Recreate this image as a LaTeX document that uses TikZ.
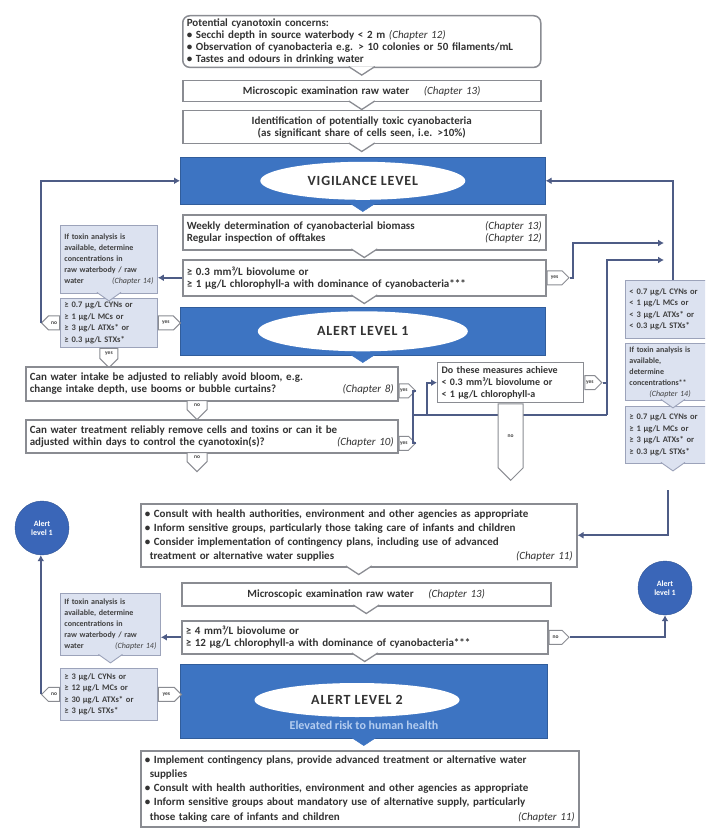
\documentclass[tikz,border=0pt]{standalone}
\usepackage{fontspec}
\setmainfont{Carlito}
\usetikzlibrary{shapes.geometric,shapes.symbols,calc,arrows.meta}
\definecolor{bannerblue}{HTML}{3D74C2}
\definecolor{circblue}{HTML}{3A66B8}
\definecolor{linec}{HTML}{4E5C86}
\definecolor{bordergrey}{HTML}{8A8C92}
\definecolor{toxfill}{HTML}{DCE2F0}
\definecolor{toxborder}{HTML}{9CA3BA}
\definecolor{subblue}{HTML}{B4CDF0}
\newcommand\chref[1]{{\mdseries\itshape #1}}
\newcommand\mybox[7]{%
 \pgfmathsetmacro\mbw{#5-#3}\pgfmathsetmacro\mbh{#6-#4}\pgfmathsetmacro\mbt{#5-#3-8}%
 \node[anchor=north west, minimum width=\mbw pt, minimum height=\mbh pt, text width=\mbt pt, #1] (#2) at (#3,#4) {#7};}
\newcommand\dnotch[3]{\filldraw[#1] ($(#2)+(-#3,-1.5)$) -- ($(#2)+(0,7)$) -- ($(#2)+(#3,-1.5)$);}
\begin{document}
\begin{tikzpicture}[x=1pt,y=-1pt,
 wbox/.style={draw=bordergrey, line width=1.5pt, fill=white, inner sep=3pt, font=\bfseries\fontsize{11}{12}\selectfont, text=black!80, align=left},
 tbox/.style={draw=toxborder, line width=0.9pt, fill=toxfill, inner sep=3pt, font=\bfseries\fontsize{8}{11}\selectfont, text=black!75, align=left},
 cbox/.style={tbox, font=\bfseries\fontsize{8.5}{11.5}\selectfont},
 banner/.style={fill=bannerblue, draw=bannerblue!80!black, line width=0.6pt},
 lev/.style={ellipse, fill=white, inner sep=0pt, font=\bfseries\fontsize{14}{15}\selectfont\addfontfeature{LetterSpace=6}, text=black!80},
 tab/.style={signal, draw=bordergrey, fill=white, line width=1pt, inner sep=1pt, font=\bfseries\fontsize{5.5}{6}\selectfont, text=black!75, minimum height=14pt, minimum width=20pt},
 conn/.style={draw=linec, line width=1.8pt},
 arr/.style={conn, -{Latex[length=6pt,width=7pt]}},
 circ/.style={circle, fill=circblue, draw=circblue!80!black, text=white, font=\bfseries\fontsize{8}{9}\selectfont, align=center, minimum size=54pt, inner sep=0pt},
 wn/.style={fill=white, draw=bordergrey, line width=1.3pt},
 tn/.style={fill=toxfill, draw=toxborder, line width=0.9pt},
 bn/.style={fill=bannerblue, draw=bannerblue}]
\clip (0,0) rectangle (705,829);
\fill[white] (0,0) rectangle (705,829);

% ---------- main column top ----------
\mybox{wbox, rounded corners=7pt}{top}{182}{15}{540}{65}{Potential cyanotoxin concerns:\\
\textbullet\ Secchi depth in source waterbody < 2 m \chref{(Chapter 12)}\\
\textbullet\ Observation of cyanobacteria e.g. > 10 colonies or 50 filaments/mL\\
\textbullet\ Tastes and odours in drinking water}
\mybox{wbox, align=center}{micro1}{182}{80}{540}{101}{Microscopic examination raw water \quad\chref{(Chapter 13)}}
\mybox{wbox, align=center}{ident}{182}{110}{540}{143}{Identification of potentially toxic cyanobacteria\\(as significant share of cells seen, i.e. >10\%)}
\mybox{banner}{vig}{180}{157}{545}{204}{}
\node[lev, minimum width=205pt, minimum height=38pt] (vigl) at (vig.center) {VIGILANCE LEVEL};
\mybox{wbox}{weekly}{182}{214}{545}{249}{Weekly determination of cyanobacterial biomass \hfill\chref{(Chapter 13)}\\Regular inspection of offtakes \hfill\chref{(Chapter 12)}}
\mybox{wbox}{thr1}{182}{259}{545}{295}{≥ 0.3 mm³/L biovolume or\\≥ 1 µg/L chlorophyll-a with dominance of cyanobacteria***}
\mybox{banner}{al1}{180}{307}{545}{355}{}
\node[lev, minimum width=210pt, minimum height=40pt] (al1l) at (al1.center) {ALERT LEVEL 1};

\dnotch{wn}{top.south}{13}
\dnotch{wn}{micro1.south}{13}
\dnotch{wn}{ident.south}{13}
\dnotch{bn}{vig.south}{13}
\dnotch{wn}{weekly.south}{13}
\dnotch{wn}{thr1.south}{13}
\dnotch{bn}{al1.south}{13}

\node[tab, signal to=east, anchor=west, minimum width=22pt] (t1yes) at (thr1.east) {yes};

% ---------- left column (upper) ----------
\mybox{tbox}{tox1}{60}{225}{157}{293}{If toxin analysis is\\available, determine\\concentrations in\\raw waterbody / raw\\water \hfill\chref{(Chapter 14)}}
\mybox{cbox}{cond1}{60}{298}{157}{347}{≥ 0.7 µg/L CYNs or\\≥ 1 µg/L MCs or\\≥ 3 µg/L ATXs* or\\≥ 0.3 µg/L STXs*}
\dnotch{tn}{tox1.south}{12}
\node[tab, signal to=west, anchor=east, minimum width=18pt] (c1no) at (cond1.west) {no};
\node[tab, signal to=east, anchor=west, minimum width=22pt] (c1yes) at (cond1.east) {yes};
\node[tab, signal to=south, anchor=north, minimum width=18pt, minimum height=15pt] (c1dn) at (cond1.south) {yes};

\draw[arr] (thr1.west) -- (thr1.west -| tox1.east);
\draw[arr] (c1no.west) |- (vig.west);

% ---------- alert level 1 questions ----------
\mybox{wbox}{intake}{25}{366}{397}{400}{Can water intake be adjusted to reliably avoid bloom, e.g.\\change intake depth, use booms or bubble curtains? \hfill\chref{(Chapter 8)}}
\mybox{wbox}{treat}{25}{419}{397}{452}{Can water treatment reliably remove cells and toxins or can it be\\adjusted within days to control the cyanotoxin(s)? \hfill\chref{(Chapter 10)}}
\node[tab, signal to=east, anchor=west, minimum width=16pt] (inyes) at ($(intake.east)+(0,7)$) {yes};
\node[tab, signal to=east, anchor=west, minimum width=16pt] (tryes) at ($(treat.east)+(0,7)$) {yes};
\node[tab, signal to=south, anchor=north, minimum width=20pt, minimum height=13pt] (inno) at (197,400) {no};
\node[tab, signal to=south, anchor=north, minimum width=20pt, minimum height=13pt] (trno) at (197,452) {no};

\coordinate (bm) at (413,415);
\coordinate (bj) at (427,415);
\coordinate (v7) at (607,415);
\coordinate (r1) at (664,243);
\coordinate (r2) at (664,260);
\draw[conn] (bj) -- (v7);
\draw[arr] (v7) |- (r2);

\mybox{wbox, font=\bfseries\fontsize{10}{12}\selectfont, line width=1.3pt, inner sep=2pt}{meas}{437}{362}{583}{402}{Do these measures achieve\\< 0.3 mm³/L biovolume or\\< 1 µg/L chlorophyll-a}
\node[tab, signal to=east, anchor=west, minimum width=17pt] (measyes) at (meas.east) {yes};
\node[tab, signal to=south, anchor=north, minimum width=25pt, minimum height=68pt] (measno) at (meas.south) {no};

\draw[conn] (inyes.east) -| (bm);
\draw[conn] (tryes.east) -| (bm);
\draw[conn] (bm) -- (bj);
\draw[arr] (bj) |- (meas.west);
\draw[conn] (measyes.east) -- (measyes.east -| v7);
\draw[arr] (t1yes.east) -- ++(3,0) |- (r1);

% ---------- right column (cropped) ----------
\mybox{cbox}{boxA}{625}{280}{720}{338}{< 0.7 µg/L CYNs or\\< 1 µg/L MCs or\\< 3 µg/L ATXs* or\\< 0.3 µg/L STXs*}
\mybox{tbox}{boxB}{625}{343}{720}{400}{If toxin analysis is\\available,\\determine\\concentrations**\\\hspace*{20pt}\chref{(Chapter 14)}}
\mybox{cbox}{boxC}{625}{406}{720}{463}{≥ 0.7 µg/L CYNs or\\≥ 1 µg/L MCs or\\≥ 3 µg/L ATXs* or\\≥ 0.3 µg/L STXs*}
\dnotch{tn}{boxB.south}{12}
\dnotch{tn}{boxC.south}{12}
\draw[arr] (boxA.north) |- (vig.east);
\coordinate (rb) at (668,490);

% ---------- lower part ----------
\mybox{wbox, font=\bfseries\fontsize{11}{14}\selectfont}{consult}{140}{503}{576}{566}{\textbullet\ Consult with health authorities, environment and other agencies as appropriate\\
\textbullet\ Inform sensitive groups, particularly those taking care of infants and children\\
\textbullet\ Consider implementation of contingency plans, including use of advanced\\
\hspace*{5pt}treatment or alternative water supplies \hfill\chref{(Chapter 11)}}
\draw[arr] (rb) |- (consult.east);
\mybox{wbox, align=center}{micro2}{181}{582}{550}{605}{Microscopic examination raw water \quad\chref{(Chapter 13)}}
\mybox{wbox}{thr2}{181}{620}{547}{653}{≥ 4 mm³/L biovolume or\\≥ 12 µg/L chlorophyll-a with dominance of cyanobacteria***}
\mybox{banner}{al2}{180}{664}{547}{738}{}
\node[lev, minimum width=205pt, minimum height=34pt] (al2l) at (357,700) {ALERT LEVEL 2};
\node[font=\bfseries\fontsize{12}{13}\selectfont, text=subblue] (al2s) at (364,725) {Elevated risk to human health};
\mybox{wbox, font=\bfseries\fontsize{11}{14.3}\selectfont}{final}{140}{750}{578}{826}{\textbullet\ Implement contingency plans, provide advanced treatment or alternative water\\
\hspace*{5pt}supplies\\
\textbullet\ Consult with health authorities, environment and other agencies as appropriate\\
\textbullet\ Inform sensitive groups about mandatory use of alternative supply, particularly\\
\hspace*{5pt}those taking care of infants and children \hfill\chref{(Chapter 11)}}
\dnotch{wn}{consult.south}{13}
\dnotch{wn}{micro2.south}{13}
\dnotch{wn}{thr2.south}{13}
\dnotch{bn}{al2.south}{13}
\node[tab, signal to=east, anchor=west, minimum width=20pt] (t2no) at (thr2.east) {no};

\mybox{tbox}{tox2}{60}{593}{160}{655}{If toxin analysis is\\available, determine\\concentrations in\\raw waterbody / raw\\water \hfill\chref{(Chapter 14)}}
\mybox{cbox}{cond2}{60}{668}{157}{720}{≥ 3 µg/L CYNs or\\≥ 12 µg/L MCs or\\≥ 30 µg/L ATXs* or\\≥ 3 µg/L STXs*}
\dnotch{tn}{tox2.south}{12}
\node[tab, signal to=west, anchor=east, minimum width=18pt] (c2no) at (cond2.west) {no};
\node[tab, signal to=east, anchor=west, minimum width=23pt] (c2yes) at (cond2.east) {yes};
\draw[arr] (thr2.west) -- (thr2.west -| tox2.east);

\node[circ] (cA) at (42,528) {Alert\\level 1};
\node[circ] (cB) at (665,588) {Alert\\level 1};
\draw[arr] (c2no.west) -- (c2no.west |- cA.south);
\draw[arr] (t2no.east) -| (cB.south);
\end{tikzpicture}
\end{document}
